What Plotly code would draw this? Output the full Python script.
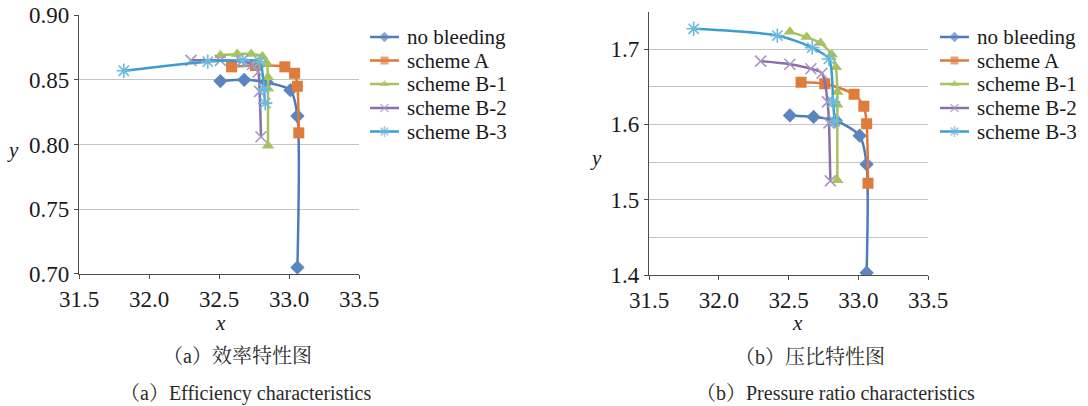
import plotly.graph_objects as go

# ---------------- data ----------------
series_names = ["no bleeding", "scheme A", "scheme B-1", "scheme B-2", "scheme B-3"]

nb_x = [32.51, 32.68, 32.84, 33.01, 33.06, 33.06]
nb_eff = [0.849, 0.850, 0.848, 0.842, 0.822, 0.705]
nb_pr = [1.612, 1.610, 1.605, 1.585, 1.547, 1.403]

a_x = [32.59, 32.76, 32.97, 33.04, 33.06, 33.07]
a_eff = [0.860, 0.861, 0.860, 0.855, 0.845, 0.809]
a_pr = [1.656, 1.654, 1.640, 1.624, 1.601, 1.522]

b1_x = [32.51, 32.63, 32.73, 32.81, 32.84, 32.85, 32.85, 32.85]
b1_eff = [0.869, 0.870, 0.870, 0.868, 0.863, 0.852, 0.843, 0.799]
b1_pr = [1.723, 1.716, 1.708, 1.693, 1.676, 1.643, 1.626, 1.526]

b2_x = [32.30, 32.51, 32.66, 32.74, 32.78, 32.79, 32.80]
b2_eff = [0.865, 0.865, 0.864, 0.862, 0.856, 0.841, 0.806]
b2_pr = [1.684, 1.680, 1.674, 1.668, 1.630, 1.602, 1.525]

b3_x = [31.82, 32.42, 32.67, 32.79, 32.82, 32.83]
b3_eff = [0.857, 0.864, 0.865, 0.864, 0.843, 0.832]
b3_pr = [1.727, 1.718, 1.702, 1.687, 1.630, 1.604]

x_ticks = [31.5, 32.0, 32.5, 33.0, 33.5]
x_tick_text = ["31.5", "32.0", "32.5", "33.0", "33.5"]
eff_ticks = [0.70, 0.75, 0.80, 0.85, 0.90]
eff_tick_text = ["0.70", "0.75", "0.80", "0.85", "0.90"]
pr_ticks = [1.4, 1.5, 1.6, 1.7]
pr_tick_text = ["1.4", "1.5", "1.6", "1.7"]
pr_minor = [1.45, 1.55, 1.65]

caption_a_cn = "（a）效率特性图"
caption_a_en = "（a）Efficiency characteristics"
caption_b_cn = "（b）压比特性图"
caption_b_en = "（b）Pressure ratio characteristics"

# ---------------- geometry (page pixels; body margin removed) ----------------
OFF = 0
FW, FH = 1088 - OFF, 406 - OFF


def px(x):
    return (x - OFF) / FW


def py(y):
    return 1 - (y - OFF) / FH


SERIF = "Liberation Serif"
CJK = "Liberation Serif, Noto Serif CJK SC, Noto Sans CJK SC"

styles = [
    dict(color="#4F7BB8", mcolor="#5B84C0", symbol="diamond", size=11, lw=0),
    dict(color="#DD7A3A", mcolor="#DF7C3C", symbol="square", size=11, lw=0),
    dict(color="#A8C25C", mcolor="#A8C25C", symbol="triangle-up", size=11, lw=0),
    dict(color="#8A6FAA", mcolor="#A795C2", symbol="x-thin", size=11, lw=1.6),
    dict(color="#3A9ED2", mcolor="#6CB9DE", symbol="asterisk", size=12, lw=1.6),
]

eff_data = [(nb_x, nb_eff), (a_x, a_eff), (b1_x, b1_eff), (b2_x, b2_eff), (b3_x, b3_eff)]
pr_data = [(nb_x, nb_pr), (a_x, a_pr), (b1_x, b1_pr), (b2_x, b2_pr), (b3_x, b3_pr)]


def marker_for(st, size=None):
    s = st["size"] if size is None else size
    if st["lw"] > 0:
        return dict(symbol=st["symbol"], size=s, color=st["mcolor"],
                    line=dict(color=st["mcolor"], width=st["lw"]))
    return dict(symbol=st["symbol"], size=s, color=st["mcolor"], line=dict(width=0))


fig = go.Figure()

SMOOTH = 0.75
for (xs, ys), name, st in zip(eff_data, series_names, styles):
    fig.add_trace(go.Scatter(
        x=xs, y=ys, name=name, mode="lines+markers", xaxis="x", yaxis="y",
        line=dict(color=st["color"], width=2.5, shape="spline", smoothing=SMOOTH),
        marker=marker_for(st), showlegend=False))

for (xs, ys), name, st in zip(pr_data, series_names, styles):
    fig.add_trace(go.Scatter(
        x=xs, y=ys, name=name, mode="lines+markers", xaxis="x2", yaxis="y2",
        line=dict(color=st["color"], width=2.5, shape="spline", smoothing=SMOOTH),
        marker=marker_for(st), showlegend=False))

# ---------------- manual legends (pixel overlay axis) ----------------
legend_rows = [37, 60.5, 84, 108, 131.5]
legend_blocks = [(370, 399, 405), (940, 969, 975)]
annotations = []
for (lx0, lx1, tx) in legend_blocks:
    for name, st, ry in zip(series_names, styles, legend_rows):
        fig.add_trace(go.Scatter(
            x=[lx0, (lx0 + lx1) / 2, lx1], y=[ry, ry, ry], xaxis="x3", yaxis="y3",
            mode="lines+markers", hoverinfo="skip", showlegend=False,
            line=dict(color=st["color"], width=2.5),
            marker=dict(symbol=st["symbol"], size=[0, st["size"] - 3, 0], color=st["mcolor"],
                        line=dict(color=st["mcolor"], width=st["lw"]))))
        annotations.append(dict(
            x=px(tx), y=py(ry), xref="paper", yref="paper", text=name,
            showarrow=False, xanchor="left", yanchor="middle",
            font=dict(family=SERIF, size=21, color="#1a1a1a")))

# axis titles
for txt, ax, ay in [("y", 13, 150), ("x", 220, 323), ("y", 596, 158), ("x", 797, 323)]:
    annotations.append(dict(x=px(ax), y=py(ay), xref="paper", yref="paper",
                            text="<i>" + txt + "</i>", showarrow=False,
                            xanchor="center", yanchor="middle",
                            font=dict(family=SERIF, size=21, color="#1a1a1a")))

# captions
for txt, cx, cy, sz in [(caption_a_cn, 237, 356, 20), (caption_a_en, 245, 393, 20),
                        (caption_b_cn, 810, 357, 20), (caption_b_en, 835, 393, 20)]:
    annotations.append(dict(x=px(cx), y=py(cy), xref="paper", yref="paper",
                            text=txt, showarrow=False, xanchor="center", yanchor="middle",
                            font=dict(family=CJK, size=sz, color="#2a2a2a")))

axis_common = dict(showline=True, linecolor="#4d4d4d", linewidth=1.2, ticks="outside",
                   ticklen=4, tickcolor="#4d4d4d", zeroline=False, automargin=False,
                   ticklabeloverflow="allow",
                   tickfont=dict(family=SERIF, size=23, color="#1a1a1a"))

fig.update_layout(
    width=FW, height=FH, margin=dict(l=0, r=0, t=0, b=0, autoexpand=False),
    paper_bgcolor="white", plot_bgcolor="rgba(0,0,0,0)",
    xaxis=dict(domain=[px(79), px(359)], range=[31.5, 33.5], anchor="y",
               tickvals=x_ticks, ticktext=x_tick_text, showgrid=False, **axis_common),
    yaxis=dict(domain=[py(274), py(15)], range=[0.69995, 0.90005], anchor="x",
               tickvals=eff_ticks, ticktext=eff_tick_text, showgrid=True,
               gridcolor="#C4C4C4", gridwidth=1, **axis_common),
    xaxis2=dict(domain=[px(649), px(928)], range=[31.5, 33.5], anchor="y2",
                tickvals=x_ticks, ticktext=x_tick_text, showgrid=False, **axis_common),
    yaxis2=dict(domain=[py(275), py(11.5)], range=[1.4, 1.75], anchor="x2",
                tickvals=pr_ticks, ticktext=pr_tick_text, showgrid=True,
                gridcolor="#C4C4C4", gridwidth=1,
                minor=dict(tickvals=pr_minor, showgrid=True, gridcolor="#C4C4C4",
                           gridwidth=1, ticks=""),
                **axis_common),
    xaxis3=dict(domain=[0, 1], range=[OFF, OFF + FW], visible=False, anchor="y3",
                fixedrange=True),
    yaxis3=dict(domain=[0, 1], range=[OFF + FH, OFF], visible=False, anchor="x3",
                fixedrange=True),
    annotations=annotations,
    showlegend=False,
    hovermode=False,
)

fig.write_html("out.html",
               config={"displayModeBar": False, "staticPlot": True},
               post_script="document.body.style.margin='0';document.body.style.padding='0';"
                           "document.body.style.overflow='hidden';")
